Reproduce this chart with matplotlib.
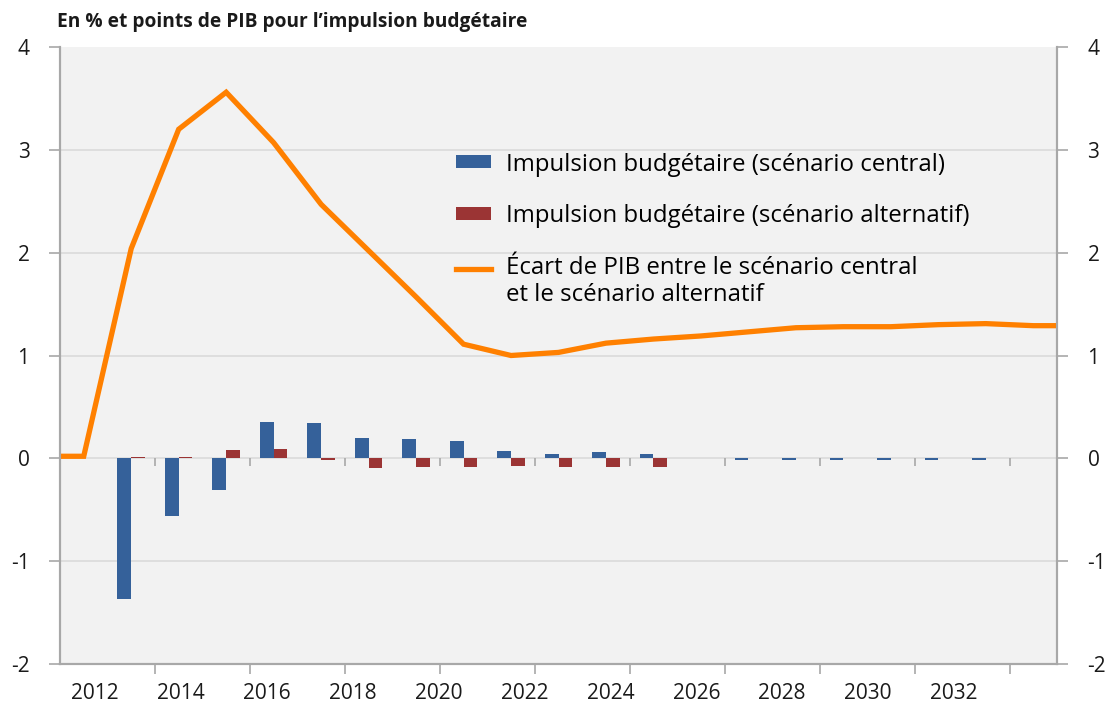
import matplotlib.pyplot as plt
import numpy as np
from matplotlib.legend_handler import HandlerLine2D

plt.rcParams['font.family'] = ['Open Sans', 'DejaVu Sans']

# Données - une catégorie par année
impulsion_central = [np.nan, -1.37, -0.56, -0.31, 0.35, 0.34, 0.20, 0.19, 0.17, 0.07, 0.04,
                     0.06, 0.04, 0.005, -0.02, -0.02, -0.02, -0.02, -0.02, -0.02, np.nan]
impulsion_alternatif = [np.nan, 0.01, 0.01, 0.08, 0.09, -0.02, -0.09, -0.08, -0.08, -0.07, -0.08,
                        -0.08, -0.085, 0.005, 0.005, 0.005, 0.005, 0.005, 0.005, 0.005, np.nan]
ecart_pib = [0.02, 2.04, 3.20, 3.56, 3.07, 2.47, 2.02, 1.57, 1.11, 1.00, 1.03,
             1.12, 1.16, 1.19, 1.23, 1.27, 1.28, 1.28, 1.30, 1.31, 1.29]
annees_labels = ['2012', '2014', '2016', '2018', '2020', '2022', '2024', '2026', '2028', '2030', '2032']

bleu = '#35619a'
rouge = '#9b3434'
orange = '#ff8000'
gris = '#a8a8a8'


class HandlerPremiereLigne(HandlerLine2D):
    # aligne le trait de légende sur la première ligne d'un libellé sur deux lignes
    def create_artists(self, legend, orig_handle, xdescent, ydescent, width, height, fontsize, trans):
        artists = super().create_artists(legend, orig_handle, xdescent, ydescent,
                                         width, height, fontsize, trans)
        for a in artists:
            a.set_ydata(np.asarray(a.get_ydata()) + 0.6 * fontsize)
        return artists


n = len(ecart_pib)
x = np.arange(n)

fig = plt.figure(figsize=(11.09, 7.04), dpi=100)
ax = fig.add_axes([60 / 1109, 40 / 704, 997 / 1109, 617 / 704])
ax.set_facecolor('#f2f2f2')

# grille horizontale
for v in range(-1, 4):
    ax.axhline(v, color='#dadada', lw=1.2, zorder=0)

w = 0.29
b1 = ax.bar(x - w / 2, impulsion_central, width=w, color=bleu, zorder=2,
            label='Impulsion budgétaire (scénario central)')
b2 = ax.bar(x + w / 2, impulsion_alternatif, width=w, color=rouge, zorder=2,
            label='Impulsion budgétaire (scénario alternatif)')

# la courbe va jusqu'aux bords de la zone de tracé
x_line = np.r_[-0.5, x, n - 0.5]
y_line = np.r_[ecart_pib[0], ecart_pib, ecart_pib[-1]]
l1, = ax.plot(x_line, y_line, color=orange, lw=3.8, zorder=3, solid_joinstyle='miter',
              label='Écart de PIB entre le scénario central\net le scénario alternatif')

ax.set_xlim(-0.5, n - 0.5)
ax.set_ylim(-2, 4)

# graduations de l'axe des catégories (tous les 2 ans)
minor = np.arange(1.5, n - 0.5, 2)
ax.set_xticks(minor, minor=True)
ax.vlines(minor, -0.07, 0, color=gris, lw=1.2, zorder=1)
ax.set_xticks(np.linspace(0.24, 18.33, len(annees_labels)))
ax.set_xticklabels(annees_labels, fontsize=15, color='#1a1a1a')
ax.tick_params(axis='x', which='major', length=0, pad=14)
ax.tick_params(axis='x', which='minor', length=7, width=1.2, color=gris)

ax.set_yticks(range(-2, 5))
ax.set_yticklabels([str(v) for v in range(-2, 5)], fontsize=15, color='#1a1a1a')
ax.tick_params(axis='y', length=8, width=1.2, color=gris, pad=14)

ax2 = ax.twinx()
ax2.set_ylim(-2, 4)
ax2.set_yticks(range(-2, 5))
ax2.set_yticklabels([str(v) for v in range(-2, 5)], fontsize=15, color='#1a1a1a')
ax2.tick_params(axis='y', length=8, width=1.2, color=gris, pad=14)

for a in (ax, ax2):
    a.spines['top'].set_visible(False)
    for s in ('left', 'right', 'bottom'):
        a.spines[s].set_color(gris)
        a.spines[s].set_linewidth(1.5)

leg = ax.legend(handles=[b1, b2, l1], loc='upper left', bbox_to_anchor=(0.397, 0.829),
                frameon=False, fontsize=17.3, handlelength=1.46, handleheight=0.45,
                handletextpad=0.62, labelspacing=1.15, borderpad=0, borderaxespad=0,
                handler_map={l1: HandlerPremiereLigne()})

fig.text(57 / 1109, 1 - 22 / 704, "En % et points de PIB pour l’impulsion budgétaire",
         fontsize=13.8, fontweight='bold', color='#1a1a1a', va='center', ha='left')

fig.savefig('out.png', dpi=100)
